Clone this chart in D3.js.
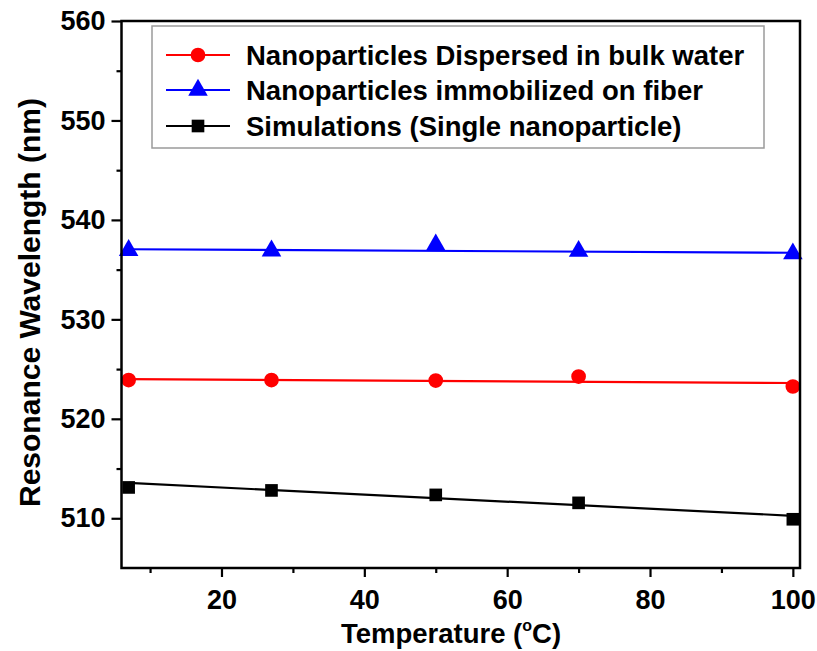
<!DOCTYPE html>
<html><head><meta charset="utf-8">
<script src="https://cdn.jsdelivr.net/npm/d3@7"></script>
<style>body{margin:0;background:#fff}</style>
</head><body>
<svg id="c" width="817" height="651"></svg>
<script>
// ---- data ----
const temperatures = [7, 27, 50, 70, 100];
const dispersedValues = [523.9, 523.9, 523.85, 524.25, 523.25];
const immobilizedValues = [536.95, 536.9, 537.5, 536.85, 536.6];
const simulationValues = [513.1, 512.8, 512.35, 511.55, 509.9];
const fitX = [7, 100];
const dispersedFit = [524.0, 523.6];
const immobilizedFit = [537.05, 536.7];
const simulationFit = [513.55, 510.25];
const xMajorTicks = [20, 40, 60, 80, 100];
const xMinorTicks = [10, 30, 50, 70, 90];
const yMajorTicks = [510, 520, 530, 540, 550, 560];
const yMinorTicks = [515, 525, 535, 545, 555];
const seriesNames = ["Nanoparticles Dispersed in bulk water", "Nanoparticles immobilized on fiber", "Simulations (Single nanoparticle)"];
const seriesColors = ["#ff0000", "#0000ff", "#000000"];
const xTitle = "Temperature (";
const yTitle = "Resonance Wavelength (nm)";

// ---- layout ----
const svg = d3.select("#c");
const L = 121.5, R = 800, T = 21, B = 568;
const FONT = "Arial, 'Liberation Sans', sans-serif";
const x = d3.scaleLinear().domain([6, 101]).range([L, R]);
const y = d3.scaleLinear().domain([505, 560]).range([B, T]);

const series = [
  {vals: dispersedValues, fit: dispersedFit, sym: d3.symbolCircle, size: 170},
  {vals: immobilizedValues, fit: immobilizedFit, sym: d3.symbolTriangle, size: 165},
  {vals: simulationValues, fit: simulationFit, sym: d3.symbolSquare, size: 160}
];

// data lines and markers
const line = d3.line().x(d => x(d[0])).y(d => y(d[1]));
series.forEach((s, i) => {
  const g = svg.append("g");
  g.append("path").attr("d", line(fitX.map((t, k) => [t, s.fit[k]])))
    .attr("fill", "none").attr("stroke", seriesColors[i]).attr("stroke-width", 2.2);
  g.selectAll("path.m").data(temperatures.map((t, k) => [t, s.vals[k]])).enter()
    .append("path").attr("class", "m")
    .attr("d", d3.symbol().type(s.sym).size(s.size))
    .attr("transform", d => `translate(${x(d[0])},${y(d[1])})`)
    .attr("fill", seriesColors[i]);
});

// axes
const axB = d3.axisBottom(x).tickValues(xMajorTicks).tickSize(9).tickPadding(13).tickFormat(d3.format("d"));
const gB = svg.append("g").attr("transform", `translate(0,${B})`).call(axB);
const gBm = svg.append("g").attr("transform", `translate(0,${B})`).call(d3.axisBottom(x).tickValues(xMinorTicks).tickSize(5).tickFormat(""));
const axL = d3.axisLeft(y).tickValues(yMajorTicks).tickSize(10).tickPadding(6).tickFormat(d3.format("d"));
const gL = svg.append("g").attr("transform", `translate(${L},0)`).call(axL);
const gLm = svg.append("g").attr("transform", `translate(${L},0)`).call(d3.axisLeft(y).tickValues(yMinorTicks).tickSize(5).tickFormat(""));
[gB, gBm, gL, gLm].forEach(g => {
  g.select(".domain").remove();
  g.selectAll(".tick line").attr("stroke", "#000").attr("stroke-width", 2.2);
});
[gB, gL].forEach(g => g.selectAll(".tick text").attr("font-family", FONT).attr("font-weight", "bold")
  .attr("font-size", 27).attr("fill", "#000"));

// frame
svg.append("rect").attr("x", L).attr("y", T).attr("width", R - L).attr("height", B - T)
  .attr("fill", "none").attr("stroke", "#000").attr("stroke-width", 2.5);

// axis titles
const xt = svg.append("text").attr("x", 451).attr("y", 643)
  .attr("text-anchor", "middle").attr("font-family", FONT).attr("font-weight", "bold")
  .attr("font-size", 27.5).attr("fill", "#000");
xt.append("tspan").text(xTitle);
xt.append("tspan").attr("font-size", 16).attr("dy", -12).text("o");
xt.append("tspan").attr("dy", 12).text("C)");

svg.append("text").attr("transform", `translate(40,${(T + B) / 2 + 8}) rotate(-90)`)
  .attr("text-anchor", "middle").attr("font-family", FONT).attr("font-weight", "bold")
  .attr("font-size", 30).attr("fill", "#000").text(yTitle);

// legend
const lg = svg.append("g");
lg.append("rect").attr("x", 152).attr("y", 26).attr("width", 612).attr("height", 122)
  .attr("fill", "#fff").attr("stroke", "#9a9a9a").attr("stroke-width", 1.5);
const rowY = [55, 90, 126];
series.forEach((s, i) => {
  lg.append("line").attr("x1", 166).attr("x2", 230).attr("y1", rowY[i]).attr("y2", rowY[i])
    .attr("stroke", seriesColors[i]).attr("stroke-width", 2.2);
  lg.append("path").attr("d", d3.symbol().type(s.sym).size(s.size))
    .attr("transform", `translate(198,${rowY[i]})`).attr("fill", seriesColors[i]);
  lg.append("text").attr("x", 246).attr("y", rowY[i] + 10)
    .attr("font-family", FONT).attr("font-weight", "bold").attr("font-size", 27.5)
    .attr("fill", "#000").text(seriesNames[i]);
});
</script>
</body></html>
